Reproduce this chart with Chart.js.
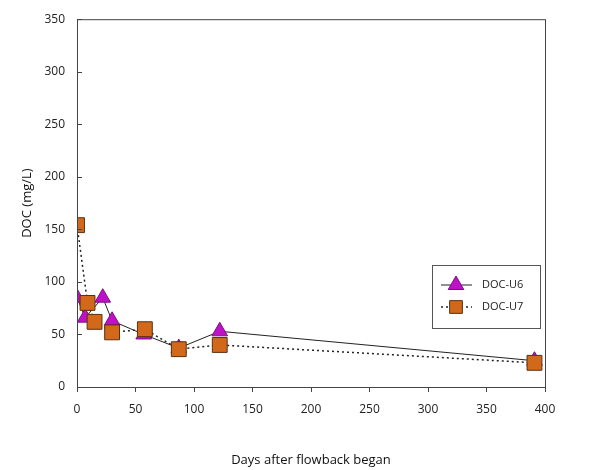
<!DOCTYPE html>
<html><head><meta charset="utf-8">
<script src="https://cdn.jsdelivr.net/npm/chart.js@4/dist/chart.umd.min.js"></script>
<style>html,body{margin:0;padding:0;background:#fff}#wrap{width:603px;height:470px}</style>
</head><body><div id="wrap"><canvas id="c" width="603" height="470"></canvas></div>
<script>
const u6Days = [0, 7, 22, 30, 57, 87, 122, 391];
const u6Doc  = [85, 66, 85, 63, 50, 37, 53, 25];
const u7Days = [0, 9, 15, 30, 58, 87, 122, 391];
const u7Doc  = [154, 80, 62, 52, 55, 36, 40, 23];
const xTicks = [0, 50, 100, 150, 200, 250, 300, 350, 400];
const yTicks = [0, 50, 100, 150, 200, 250, 300, 350];

const pts = (xs, ys) => xs.map((x, i) => ({x, y: ys[i]}));
const font = "'Open Sans', 'DejaVu Sans', sans-serif";

const frame = {
  id: 'frame',
  afterDraw(chart) {
    const {ctx, chartArea: a, scales} = chart;
    ctx.save();
    ctx.strokeStyle = '#444';
    ctx.lineWidth = 1;
    ctx.strokeRect(a.left + 0.5, a.top + 0.5, a.right - a.left, a.bottom - a.top);
    yTicks.forEach(v => {
      const y = Math.round(scales.y.getPixelForValue(v)) + 0.5;
      ctx.beginPath(); ctx.moveTo(a.left, y); ctx.lineTo(a.left + 5, y); ctx.stroke();
    });
    ctx.restore();
  }
};

new Chart(document.getElementById('c'), {
  type: 'scatter',
  data: {
    datasets: [
      {
        label: 'DOC-U6',
        order: 1,
        data: pts(u6Days, u6Doc),
        showLine: true,
        borderColor: '#222',
        borderWidth: 1,
        pointStyle: 'triangle',
        pointRadius: 9,
        pointBackgroundColor: '#c010c8',
        pointBorderColor: '#7a1080',
        pointBorderWidth: 1
      },
      {
        label: 'DOC-U7',
        order: 0,
        data: pts(u7Days, u7Doc),
        showLine: true,
        borderColor: '#222',
        borderWidth: 1.5,
        borderDash: [2, 3],
        pointStyle: 'rect',
        pointRadius: 10.5,
        pointBackgroundColor: '#d2691a',
        pointBorderColor: '#5a3010',
        pointBorderWidth: 1
      }
    ]
  },
  options: {
    responsive: false,
    animation: false,
    layout: {padding: {left: 0, right: 58, top: 11, bottom: 0}},
    plugins: {
      legend: {display: false},
      tooltip: {enabled: false}
    },
    scales: {
      x: {
        type: 'linear', min: 0, max: 400,
        afterBuildTicks: s => { s.ticks = xTicks.map(v => ({value: v})); },
        afterFit: s => { s.height = 83; },
        grid: {display: true, drawOnChartArea: false, drawTicks: true, tickLength: 5, color: '#444'},
        border: {display: true, color: '#444'},
        ticks: {color: '#222', font: {family: font, size: 12}, padding: 10, maxRotation: 0},
        title: {display: true, text: 'Days after flowback began', color: '#111',
                font: {family: font, size: 13}, padding: {top: 0, bottom: 2}}
      },
      y: {
        type: 'linear', min: 0, max: 350,
        afterBuildTicks: s => { s.ticks = yTicks.map(v => ({value: v})); },
        afterFit: s => { s.width = 77; },
        grid: {display: true, drawOnChartArea: false, drawTicks: false, color: '#444'},
        border: {display: true, color: '#444'},
        ticks: {color: '#222', font: {family: font, size: 12}, padding: 12},
        title: {display: true, text: 'DOC (mg/L)', color: '#111',
                font: {family: font, size: 13}, padding: {top: 19, bottom: 0}}
      }
    }
  },
  plugins: [frame, {
    id: 'legendBox',
    afterDraw(chart) {
      const {ctx} = chart;
      const ds = chart.data.datasets;
      const bx = 432, by = 265, bw = 108, bh = 63;
      ctx.save();
      ctx.fillStyle = '#fff';
      ctx.fillRect(bx, by, bw, bh);
      ctx.strokeStyle = '#555'; ctx.lineWidth = 1;
      ctx.strokeRect(bx + 0.5, by + 0.5, bw, bh);
      ctx.font = "11px " + font;
      ctx.textBaseline = 'middle';
      ds.forEach((d, i) => {
        const cy = by + 20 + i * 22;
        ctx.strokeStyle = '#222';
        ctx.lineWidth = d.borderWidth;
        ctx.setLineDash(d.borderDash || []);
        ctx.beginPath(); ctx.moveTo(bx + 9, cy); ctx.lineTo(bx + 40, cy); ctx.stroke();
        ctx.setLineDash([]);
        ctx.fillStyle = d.pointBackgroundColor;
        ctx.strokeStyle = d.pointBorderColor;
        ctx.lineWidth = 1;
        Chart.helpers.drawPoint(ctx, {pointStyle: d.pointStyle, radius: i === 0 ? 9 : 9, borderWidth: 1}, bx + 24, cy);
        ctx.fillStyle = '#222';
        ctx.fillText(d.label, bx + 50, cy);
      });
      ctx.restore();
    }
  }]
});
</script>
</body></html>
